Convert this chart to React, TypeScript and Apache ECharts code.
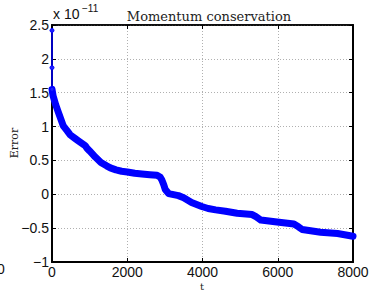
import React, { useEffect, useRef } from "react";
import * as echarts from "echarts";

const headT = [0, 0, 0];
const headV = [2.42, 1.87, 1.55];
const mainT = [0, 30, 100, 170, 300, 400, 480, 600, 700, 880, 930, 1000, 1150, 1300, 1450, 1550, 1700, 1850, 2000, 2200, 2390, 2600, 2790, 2880, 2920, 2970, 3010, 3100, 3360, 3500, 3710, 3980, 4150, 4350, 4610, 4920, 5320, 5420, 5550, 5980, 6430, 6550, 6650, 7140, 7590, 8000];
const mainV = [1.55, 1.45, 1.32, 1.21, 1.01, 0.94, 0.88, 0.83, 0.79, 0.72, 0.68, 0.64, 0.55, 0.47, 0.42, 0.39, 0.36, 0.34, 0.33, 0.31, 0.30, 0.29, 0.28, 0.25, 0.21, 0.14, 0.07, 0.01, -0.02, -0.05, -0.12, -0.18, -0.21, -0.23, -0.25, -0.28, -0.30, -0.33, -0.38, -0.41, -0.44, -0.48, -0.52, -0.56, -0.58, -0.62];
const xTicks = [0, 2000, 4000, 6000, 8000];
const yTicks = [-1, -0.5, 0, 0.5, 1, 1.5, 2, 2.5];

const fmt = (v: number) => String(v).replace("-", "\u2212");

export default function App() {
  const ref = useRef<HTMLDivElement>(null);
  useEffect(() => {
    const chart = echarts.init(ref.current!, null, { renderer: "svg" });
    const sans = "Liberation Sans";
    const serif = "DejaVu Serif";
    const gridLine = { show: true, lineStyle: { color: "#b0b0b0", type: [1, 2], width: 1 } };
    chart.setOption({
      animation: false,
      title: {
        text: "Momentum conservation",
        left: 204,
        top: 5,
        textAlign: "center",
        textStyle: { fontFamily: serif, fontSize: 13, fontWeight: "normal", color: "#222" },
      },
      grid: { left: 52, right: 17, top: 25, bottom: 29, show: true, borderColor: "#000", borderWidth: 1.5, backgroundColor: "#fff", outerBoundsMode: "none", containLabel: false },
      xAxis: [
        {
          type: "value", min: xTicks[0], max: xTicks[xTicks.length - 1], interval: 2000,
          axisLine: { show: true, onZero: false, lineStyle: { color: "#000", width: 2 } },
          axisTick: { show: true, inside: true, length: 4, lineStyle: { color: "#000" } },
          axisLabel: { fontFamily: sans, fontSize: 14, color: "#111", margin: 3, formatter: fmt },
          splitLine: gridLine,
        },
        {
          type: "value", position: "top", min: xTicks[0], max: xTicks[xTicks.length - 1], interval: 2000,
          axisLine: { show: true, onZero: false, lineStyle: { color: "#000", width: 1.5 } },
          axisTick: { show: true, inside: true, length: 4, lineStyle: { color: "#000" } },
          axisLabel: { show: false }, splitLine: { show: false },
        },
      ],
      yAxis: [
        {
          type: "value", min: yTicks[0], max: yTicks[yTicks.length - 1], interval: 0.5,
          axisLine: { show: true, onZero: false, lineStyle: { color: "#000", width: 2 } },
          axisTick: { show: true, inside: true, length: 4, lineStyle: { color: "#000" } },
          axisLabel: { fontFamily: sans, fontSize: 14, color: "#111", margin: 3, formatter: fmt },
          splitLine: gridLine,
        },
        {
          type: "value", position: "right", min: yTicks[0], max: yTicks[yTicks.length - 1], interval: 0.5,
          axisLine: { show: true, onZero: false, lineStyle: { color: "#000", width: 2 } },
          axisTick: { show: true, inside: true, length: 4, lineStyle: { color: "#000" } },
          axisLabel: { show: false }, splitLine: { show: false },
        },
      ],
      graphic: [
        { type: "text", left: 53, top: 7, style: { text: "x 10", fontFamily: sans, fontSize: 14, fill: "#111" } },
        { type: "text", left: 82, top: 3, style: { text: "\u221211", fontFamily: sans, fontSize: 10, fill: "#111" } },
        { type: "text", left: -3, top: 262, style: { text: "0", fontFamily: sans, fontSize: 14, fill: "#111" } },
        {
          type: "text", x: 14, y: 143, rotation: Math.PI / 2,
          style: { text: "Error", fontFamily: serif, fontSize: 11, fill: "#222", align: "center", verticalAlign: "middle" },
        },
        {
          type: "text", x: 202, y: 286,
          style: { text: "t", fontFamily: serif, fontSize: 10, fill: "#222", align: "center", verticalAlign: "middle" },
        },
      ],
      series: [
        {
          type: "line",
          data: headT.map((t, i) => [t, headV[i]]),
          showSymbol: true, symbol: "circle", symbolSize: 4,
          itemStyle: { color: "#2020ff", borderColor: "#0000ff", borderWidth: 1 },
          lineStyle: { color: "#0000ff", width: 1.5 },
          z: 5,
        },
        {
          type: "line",
          data: mainT.map((t, i) => [t, mainV[i]]),
          showSymbol: false,
          lineStyle: { color: "#0000ff", width: 7, cap: "round", join: "round" },
          z: 4,
        },
      ],
    });
    return () => chart.dispose();
  }, []);
  return <div ref={ref} style={{ width: 370, height: 291, position: "absolute", left: 0, top: 0 }} />;
}
